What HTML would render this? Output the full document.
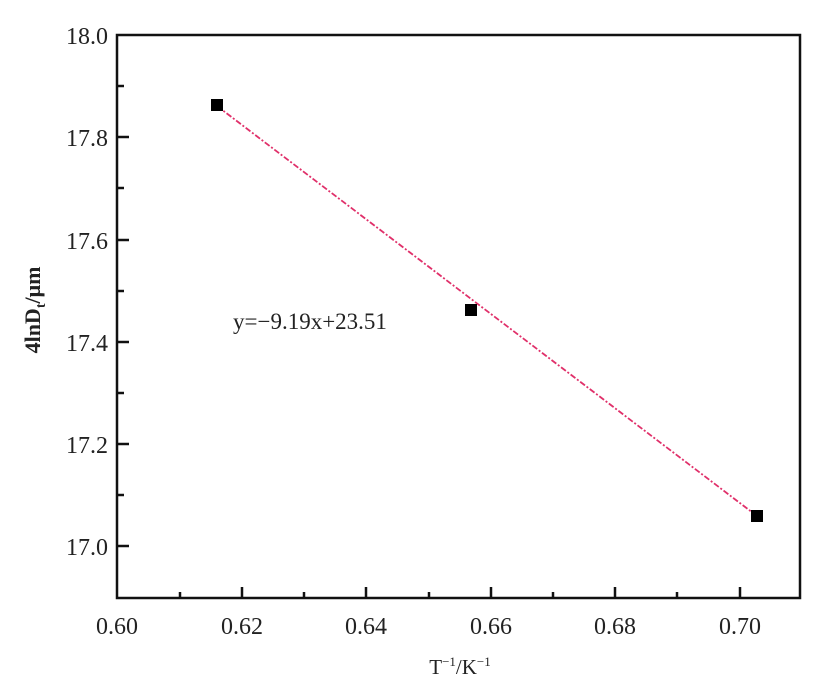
<!DOCTYPE html>
<html><head><style>body{margin:0;background:#fff}svg{display:block}svg text{font-family:"Liberation Serif","DejaVu Serif",serif}</style></head><body>
<svg width="827" height="688" xmlns="http://www.w3.org/2000/svg" fill="#222">
<g stroke="#111" stroke-width="2.5" fill="none">
<rect x="117" y="35" width="683" height="563"/>
</g>
<g stroke="#111" stroke-width="2.5">
<line x1="117" y1="137" x2="129" y2="137"/><line x1="117" y1="240" x2="129" y2="240"/><line x1="117" y1="342" x2="129" y2="342"/><line x1="117" y1="444" x2="129" y2="444"/><line x1="117" y1="546" x2="129" y2="546"/>
<line x1="117" y1="86" x2="124" y2="86"/><line x1="117" y1="188" x2="124" y2="188"/><line x1="117" y1="291" x2="124" y2="291"/><line x1="117" y1="393" x2="124" y2="393"/><line x1="117" y1="495" x2="124" y2="495"/>
<line x1="242" y1="598" x2="242" y2="587"/><line x1="366" y1="598" x2="366" y2="587"/><line x1="491" y1="598" x2="491" y2="587"/><line x1="615" y1="598" x2="615" y2="587"/><line x1="740" y1="598" x2="740" y2="587"/>
<line x1="180" y1="598" x2="180" y2="592"/><line x1="304" y1="598" x2="304" y2="592"/><line x1="429" y1="598" x2="429" y2="592"/><line x1="553" y1="598" x2="553" y2="592"/><line x1="677" y1="598" x2="677" y2="592"/>
</g>
<line x1="217" y1="106" x2="757" y2="516" stroke="#e0306a" stroke-width="1.8" stroke-dasharray="6,2,2,2"/>
<g fill="#000"><rect x="211" y="99" width="12" height="12"/><rect x="465" y="304" width="12" height="12"/><rect x="751" y="510" width="12" height="12"/></g>
<g font-size="24" text-anchor="end">
<text x="108" y="44">18.0</text><text x="108" y="146">17.8</text><text x="108" y="249">17.6</text><text x="108" y="351">17.4</text><text x="108" y="453">17.2</text><text x="108" y="555">17.0</text>
</g>
<g font-size="24" text-anchor="middle">
<text x="117" y="634">0.60</text><text x="242" y="634">0.62</text><text x="366" y="634">0.64</text><text x="491" y="634">0.66</text><text x="615" y="634">0.68</text><text x="740" y="634">0.70</text>
</g>
<text x="233" y="329" font-size="23">y=−9.19x+23.51</text>
<text x="460" y="674" font-size="21" text-anchor="middle">T<tspan font-size="13" dy="-8">−1</tspan><tspan dy="8">/K</tspan><tspan font-size="13" dy="-8">−1</tspan></text>
<text transform="translate(40,310) rotate(-90)" font-size="22" font-weight="bold" text-anchor="middle">4lnD<tspan font-size="14" dy="5">t</tspan><tspan dy="-5">/μm</tspan></text>
</svg>
</body></html>
